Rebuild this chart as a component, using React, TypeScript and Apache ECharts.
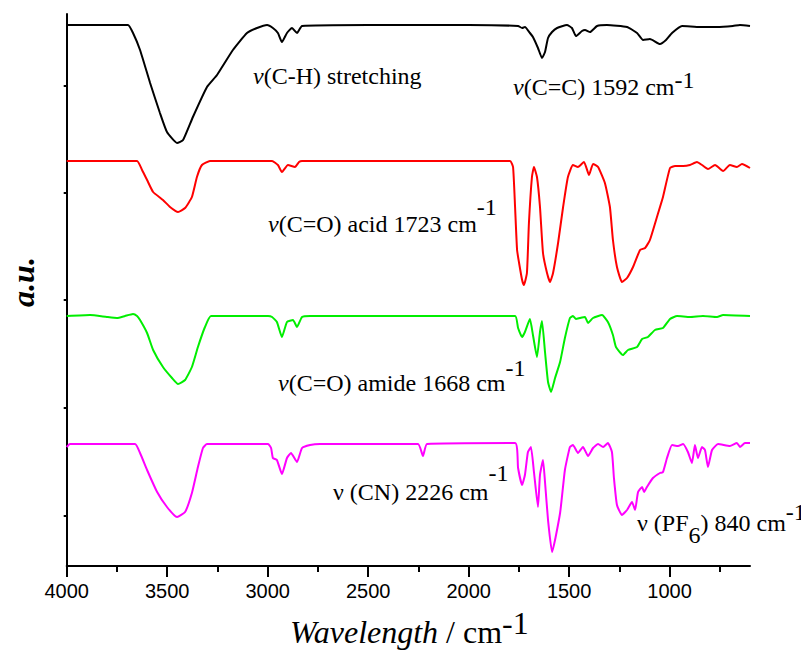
import React, { useEffect, useRef } from "react";
import * as echarts from "echarts";

// Wavenumber axis (cm-1), drawn high → low
const wnMin = 600;
const wnMax = 4000;
const majorTicks = [4000, 3500, 3000, 2500, 2000, 1500, 1000];
const minorTicks = [3750, 3250, 2750, 2250, 1750, 1250, 750];

// Vertical offset axis (a.u.)
const auMin = 0;
const auMax = 5.52;
const auTicks = [0.5, 1.58, 2.66, 3.73, 4.8];

// FTIR traces: [wavenumber, intensity (a.u., stacked)]
const blackSpectrum: [number, number][] = [
  [4000, 5.41], [3834, 5.41], [3695, 5.41], [3670, 5.33], [3635, 5.16], [3585, 4.83],
  [3536, 4.53], [3501, 4.34], [3451, 4.23], [3421, 4.26], [3372, 4.49], [3302, 4.79],
  [3252, 4.91], [3173, 5.16], [3103, 5.33], [3053, 5.38], [3003, 5.41], [2974, 5.38],
  [2949, 5.33], [2929, 5.24], [2904, 5.33], [2879, 5.38], [2854, 5.33], [2829, 5.4],
  [2500, 5.41], [2000, 5.41], [1754, 5.4], [1734, 5.38], [1720, 5.39], [1695, 5.33],
  [1680, 5.29], [1655, 5.18], [1635, 5.08], [1620, 5.14], [1605, 5.28], [1585, 5.34],
  [1560, 5.38], [1511, 5.41], [1486, 5.38], [1466, 5.3], [1436, 5.35], [1421, 5.36],
  [1396, 5.34], [1361, 5.4], [1312, 5.41], [1212, 5.39], [1162, 5.33], [1132, 5.26],
  [1098, 5.27], [1048, 5.22], [1018, 5.26], [988, 5.33], [938, 5.4], [849, 5.39],
  [764, 5.39], [685, 5.4], [650, 5.41], [600, 5.4],
];

const redSpectrum: [number, number][] = [
  [4000, 4.05], [3650, 4.05], [3625, 3.96], [3600, 3.86], [3570, 3.74], [3521, 3.66],
  [3486, 3.59], [3446, 3.54], [3411, 3.58], [3377, 3.69], [3352, 3.89], [3327, 4.01],
  [3287, 4.05], [2978, 4.05], [2949, 4.01], [2929, 3.94], [2899, 4.01], [2864, 3.99],
  [2844, 4.04], [2829, 4.05], [1794, 4.05], [1779, 3.99], [1769, 3.59], [1759, 3.16],
  [1749, 3.03], [1734, 2.86], [1725, 2.81], [1710, 2.93], [1700, 3.43], [1685, 3.89],
  [1675, 3.99], [1660, 3.89], [1645, 3.59], [1630, 3.13], [1610, 2.93], [1595, 2.84],
  [1580, 2.93], [1555, 3.23], [1530, 3.59], [1506, 3.89], [1481, 4.01], [1456, 3.99],
  [1426, 4.04], [1401, 3.91], [1381, 4.02], [1356, 3.99], [1322, 3.83], [1297, 3.59],
  [1282, 3.26], [1262, 2.99], [1237, 2.84], [1212, 2.88], [1182, 2.99], [1147, 3.16],
  [1122, 3.18], [1098, 3.26], [1063, 3.49], [1033, 3.69], [998, 3.98], [973, 4.0],
  [933, 4.0], [899, 4.01], [864, 4.04], [839, 4.01], [809, 3.97], [774, 4.01],
  [734, 3.95], [700, 4.01], [665, 3.99], [640, 4.02], [600, 3.98],
];

const greenSpectrum: [number, number][] = [
  [4000, 2.5], [3884, 2.51], [3800, 2.49], [3750, 2.48], [3710, 2.5], [3670, 2.52],
  [3650, 2.5], [3635, 2.46], [3600, 2.33], [3570, 2.16], [3521, 1.99], [3476, 1.88],
  [3446, 1.82], [3411, 1.86], [3377, 1.99], [3347, 2.19], [3312, 2.39], [3282, 2.5],
  [2998, 2.5], [2978, 2.49], [2954, 2.44], [2929, 2.29], [2904, 2.44], [2874, 2.46],
  [2854, 2.39], [2829, 2.49], [2789, 2.5], [1769, 2.5], [1754, 2.38], [1734, 2.29],
  [1720, 2.34], [1695, 2.47], [1680, 2.31], [1660, 2.09], [1645, 2.34], [1635, 2.45],
  [1620, 2.14], [1605, 1.84], [1590, 1.74], [1570, 1.88], [1545, 2.04], [1521, 2.28],
  [1496, 2.48], [1481, 2.5], [1466, 2.47], [1446, 2.48], [1421, 2.49], [1406, 2.43],
  [1381, 2.48], [1336, 2.51], [1307, 2.44], [1282, 2.31], [1267, 2.19], [1232, 2.11],
  [1207, 2.16], [1162, 2.19], [1137, 2.27], [1108, 2.29], [1073, 2.36], [1033, 2.38],
  [998, 2.47], [963, 2.5], [899, 2.49], [834, 2.5], [764, 2.49], [734, 2.51], [600, 2.5],
];

const magentaSpectrum: [number, number][] = [
  [4000, 1.19], [3984, 1.22], [3660, 1.22], [3635, 1.13], [3600, 0.96], [3550, 0.74],
  [3501, 0.59], [3451, 0.49], [3411, 0.54], [3377, 0.73], [3347, 0.99], [3322, 1.18],
  [3302, 1.22], [2998, 1.22], [2983, 1.18], [2974, 1.08], [2954, 1.06], [2929, 0.92],
  [2904, 1.08], [2884, 1.13], [2854, 1.04], [2829, 1.18], [2789, 1.21], [2740, 1.22],
  [2252, 1.22], [2227, 1.1], [2207, 1.22], [1769, 1.23], [1754, 0.98], [1734, 0.81],
  [1720, 0.91], [1705, 1.14], [1690, 1.19], [1675, 0.94], [1655, 0.59], [1645, 0.91],
  [1630, 1.06], [1620, 0.84], [1605, 0.46], [1585, 0.14], [1545, 0.53], [1521, 0.96],
  [1496, 1.19], [1481, 1.21], [1456, 1.13], [1431, 1.19], [1406, 1.1], [1381, 1.18],
  [1356, 1.22], [1331, 1.19], [1307, 1.23], [1287, 1.14], [1277, 0.88], [1262, 0.61],
  [1237, 0.51], [1212, 0.56], [1187, 0.64], [1172, 0.56], [1157, 0.74], [1137, 0.79],
  [1127, 0.74], [1113, 0.79], [1083, 0.88], [1048, 0.93], [1033, 0.94], [1013, 1.08],
  [988, 1.21], [958, 1.2], [933, 1.22], [909, 1.14], [889, 1.03], [874, 1.21],
  [859, 1.08], [839, 1.19], [824, 1.16], [809, 0.99], [789, 1.16], [759, 1.22],
  [700, 1.2], [665, 1.23], [650, 1.19], [625, 1.23], [600, 1.23],
];

const traces = [
  { name: "spectrum 1", data: blackSpectrum, color: "#000000" },
  { name: "spectrum 2", data: redSpectrum, color: "#ff0000" },
  { name: "spectrum 3", data: greenSpectrum, color: "#00ee00" },
  { name: "spectrum 4", data: magentaSpectrum, color: "#ff00ff" },
];

const serif = '"Liberation Serif", "Times New Roman", serif';
const sans = '"Liberation Sans", Arial, sans-serif';

// A label run: text, italic or not, vertical shift (negative = raised)
type Run = { t: string; it?: boolean; dy?: number };

const sup = (t: string, dy: number): Run => ({ t, dy: -dy });
const sub = (t: string, dy: number): Run => ({ t, dy });

let measureCtx: CanvasRenderingContext2D | null = null;
function textWidth(t: string, italic: boolean, size: number) {
  if (!measureCtx) measureCtx = document.createElement("canvas").getContext("2d");
  if (!measureCtx) return t.length * size * 0.5;
  measureCtx.font = `${italic ? "italic " : ""}normal ${size}px ${serif}`;
  return measureCtx.measureText(t).width;
}

// Lays the runs out left to right as separate text pieces in one group
function runLabel(x: number, y: number, runs: Run[], size = 24) {
  let cx = 0;
  const children = runs.map((r) => {
    const el = {
      type: "text",
      x: cx,
      y: r.dy || 0,
      silent: true,
      style: {
        text: r.t,
        fontFamily: serif,
        fontSize: size,
        fontStyle: r.it ? "italic" : "normal",
        fontWeight: "normal",
        fill: "#000",
        align: "left",
        verticalAlign: "middle",
      },
    };
    cx += textWidth(r.t, !!r.it, size);
    return el;
  });
  return { type: "group", x, y, silent: true, children };
}

export default function App() {
  const ref = useRef<HTMLDivElement>(null);

  useEffect(() => {
    if (!ref.current) return;
    const chart = echarts.init(ref.current, null, { renderer: "svg" });
    const axisColor = "#000";

    chart.setOption({
      animation: false,
      backgroundColor: "#ffffff",
      grid: { left: 66.7, right: 51, top: 14, bottom: 86, containLabel: false },
      xAxis: [
        {
          type: "value",
          min: wnMin,
          max: wnMax,
          inverse: true,
          position: "bottom",
          axisLine: { show: true, onZero: false, lineStyle: { color: axisColor, width: 2 } },
          axisTick: {
            show: true,
            inside: false,
            length: 11,
            customValues: majorTicks,
            lineStyle: { color: axisColor, width: 2 },
          },
          axisLabel: {
            show: true,
            customValues: majorTicks,
            formatter: (v: number) => String(v),
            color: "#000",
            fontSize: 20,
            fontFamily: sans,
            margin: 15,
          },
          splitLine: { show: false },
        },
        {
          type: "value",
          min: wnMin,
          max: wnMax,
          inverse: true,
          position: "bottom",
          axisLine: { show: false, onZero: false },
          axisTick: {
            show: true,
            inside: false,
            length: 6,
            customValues: minorTicks,
            lineStyle: { color: axisColor, width: 2 },
          },
          axisLabel: { show: false },
          splitLine: { show: false },
        },
      ],
      yAxis: {
        type: "value",
        min: auMin,
        max: auMax,
        axisLine: { show: true, onZero: false, lineStyle: { color: axisColor, width: 2 } },
        axisTick: {
          show: true,
          inside: false,
          length: 3,
          customValues: auTicks,
          lineStyle: { color: axisColor, width: 2 },
        },
        axisLabel: { show: false },
        splitLine: { show: false },
      },
      series: traces.map((t) => ({
        name: t.name,
        type: "line",
        xAxisIndex: 0,
        data: t.data,
        showSymbol: false,
        smooth: 0.15,
        lineStyle: { color: t.color, width: 2 },
        itemStyle: { color: t.color },
        silent: true,
      })),
      graphic: [
        runLabel(253, 76, [{ t: "ν", it: true }, { t: "(C-H) stretching" }]),
        runLabel(513, 87, [{ t: "ν", it: true }, { t: "(C=C) 1592 cm" }, sup("-1", 7)]),
        runLabel(268, 224, [{ t: "ν", it: true }, { t: "(C=O) acid 1723 cm" }, sup("-1", 17)]),
        runLabel(278, 383, [{ t: "ν", it: true }, { t: "(C=O) amide 1668 cm" }, sup("-1", 15)]),
        runLabel(333, 492, [{ t: "ν (CN) 2226 cm" }, sup("-1", 19)]),
        runLabel(637, 523, [{ t: "ν (PF" }, sub("6", 12), { t: ") 840 cm" }, sup("-1", 11)]),
        runLabel(290, 632, [{ t: "Wavelength", it: true }, { t: " / cm" }, sup("-1", 9)], 32),
        {
          type: "text",
          x: 23,
          y: 282,
          rotation: Math.PI / 2,
          silent: true,
          style: {
            text: "a.u.",
            fontFamily: serif,
            fontSize: 32,
            fontStyle: "italic",
            fontWeight: "bold",
            align: "center",
            verticalAlign: "middle",
            fill: "#000",
          },
        },
      ],
    });

    return () => chart.dispose();
  }, []);

  return (
    <div
      ref={ref}
      style={{ position: "fixed", left: 0, top: 0, width: 801, height: 652, background: "#fff" }}
    />
  );
}
